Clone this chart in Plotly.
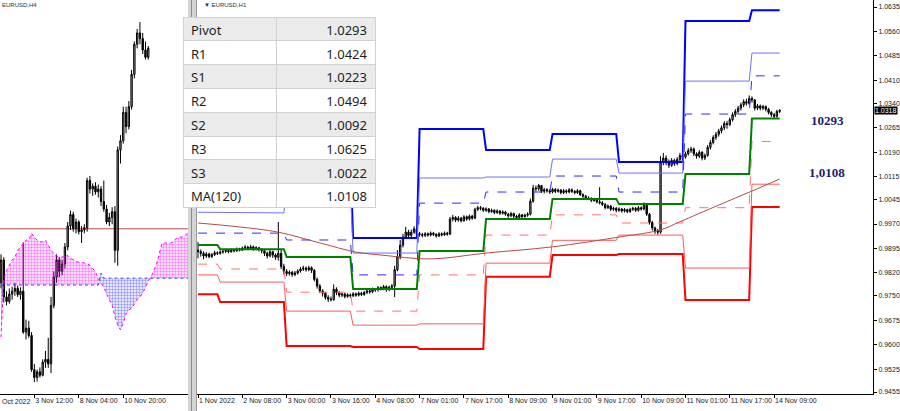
import plotly.graph_objects as go

W, H = 900, 411

# ---------------- Right chart: EURUSD H1 ----------------
h1_first_open = 0.9890
h1_close = [
 0.9885,0.9880,0.9872,0.9878,0.9870,0.9876,0.9882,0.9880,0.9884,0.9886,
 0.9889,0.9885,0.9890,0.9888,0.9893,0.9890,0.9896,0.9899,0.9895,0.9900,
 0.9894,0.9897,0.9892,0.9888,0.9880,0.9872,0.9885,0.9875,0.9868,0.9880,
 0.9840,0.9825,0.9818,0.9822,0.9815,0.9820,0.9826,0.9832,0.9835,0.9830,
 0.9836,0.9828,0.9800,0.9780,0.9765,0.9758,0.9745,0.9740,0.9738,0.9770,
 0.9760,0.9752,0.9755,0.9748,0.9753,0.9750,0.9756,0.9752,0.9758,0.9754,
 0.9760,0.9765,0.9762,0.9770,0.9768,0.9775,0.9772,0.9778,0.9770,0.9776,
 0.9780,0.9830,0.9870,0.9905,0.9930,0.9945,0.9935,0.9945,0.9955,0.9940,
 0.9938,0.9935,0.9940,0.9936,0.9942,0.9938,0.9933,0.9940,0.9937,0.9942,
 0.9939,0.9985,0.9990,0.9982,0.9988,0.9980,0.9992,0.9985,0.9994,0.9988,
 1.0015,1.0020,1.0018,1.0012,1.0016,1.0008,1.0012,1.0005,1.0010,1.0003,
 1.0007,1.0000,0.9995,1.0002,0.9994,0.9990,0.9998,0.9993,0.9997,1.0000,
 1.0040,1.0080,1.0078,1.0088,1.0070,1.0075,1.0072,1.0068,1.0076,1.0070,
 1.0074,1.0066,1.0072,1.0068,1.0075,1.0070,1.0066,1.0072,1.0060,1.0055,
 1.0050,1.0048,1.0042,1.0045,1.0038,1.0035,1.0030,1.0020,1.0025,1.0015,
 1.0018,1.0012,1.0016,1.0010,1.0014,1.0008,1.0015,1.0018,1.0012,1.0020,
 1.0016,1.0030,1.0000,0.9975,0.9958,0.9948,0.9945,1.0160,1.0172,1.0160,
 1.0150,1.0165,1.0155,1.0168,1.0180,1.0175,1.0185,1.0195,1.0200,1.0185,
 1.0178,1.0190,1.0172,1.0180,1.0205,1.0220,1.0235,1.0245,1.0255,1.0265,
 1.0278,1.0275,1.0290,1.0305,1.0315,1.0325,1.0335,1.0345,1.0340,1.0355,
 1.0350,1.0325,1.0332,1.0325,1.0330,1.0322,1.0312,1.0305,1.0300,1.0315,
 1.0318]
h1_high = [
 0.9915,0.9892,0.9886,0.9884,0.9882,0.9881,0.9888,0.9886,0.9889,0.9891,
 0.9894,0.9893,0.9895,0.9894,0.9898,0.9897,0.9901,0.9905,0.9903,0.9906,
 0.9904,0.9902,0.9900,0.9896,0.9892,0.9885,0.9890,0.9888,0.9880,0.9976,
 0.9892,0.9848,0.9832,0.9828,0.9826,0.9826,0.9831,0.9838,0.9842,0.9840,
 0.9842,0.9840,0.9832,0.9806,0.9786,0.9770,0.9762,0.9752,0.9748,0.9785,
 0.9776,0.9764,0.9760,0.9759,0.9758,0.9757,0.9761,0.9760,0.9763,0.9762,
 0.9765,0.9771,0.9769,0.9775,0.9774,0.9780,0.9779,0.9783,0.9782,0.9781,
 0.9786,0.9842,0.9890,0.9921,0.9940,0.9961,0.9952,0.9953,0.9963,0.9958,
 0.9946,0.9943,0.9945,0.9944,0.9947,0.9946,0.9942,0.9945,0.9944,0.9947,
 0.9946,0.9992,0.9998,0.9994,0.9994,0.9992,0.9997,0.9996,0.9999,0.9998,
 1.0020,1.0026,1.0025,1.0022,1.0021,1.0019,1.0017,1.0015,1.0015,1.0013,
 1.0012,1.0010,1.0004,1.0007,1.0005,0.9998,1.0003,1.0001,1.0002,1.0006,
 1.0048,1.0090,1.0088,1.0093,1.0090,1.0081,1.0080,1.0077,1.0081,1.0080,
 1.0079,1.0077,1.0077,1.0076,1.0080,1.0079,1.0074,1.0077,1.0075,1.0064,
 1.0059,1.0055,1.0052,1.0050,1.0049,1.0083,1.0040,1.0034,1.0030,1.0028,
 1.0023,1.0022,1.0021,1.0019,1.0019,1.0017,1.0020,1.0023,1.0022,1.0025,
 1.0024,1.0036,1.0033,1.0004,0.9980,0.9962,0.9955,1.0178,1.0188,1.0180,
 1.0168,1.0172,1.0170,1.0175,1.0188,1.0186,1.0192,1.0203,1.0207,1.0204,
 1.0190,1.0196,1.0193,1.0186,1.0212,1.0227,1.0242,1.0252,1.0262,1.0272,
 1.0285,1.0286,1.0296,1.0312,1.0322,1.0332,1.0342,1.0352,1.0354,1.0364,
 1.0361,1.0353,1.0338,1.0336,1.0335,1.0333,1.0326,1.0316,1.0310,1.0320,
 1.0322]
h1_low = [
 0.9865,0.9870,0.9862,0.9866,0.9865,0.9866,0.9872,0.9875,0.9876,0.9879,
 0.9881,0.9880,0.9882,0.9883,0.9884,0.9886,0.9887,0.9892,0.9890,0.9891,
 0.9888,0.9889,0.9886,0.9880,0.9872,0.9864,0.9868,0.9866,0.9860,0.9858,
 0.9832,0.9815,0.9810,0.9812,0.9808,0.9810,0.9815,0.9821,0.9826,0.9824,
 0.9825,0.9820,0.9794,0.9772,0.9758,0.9748,0.9738,0.9731,0.9733,0.9735,
 0.9752,0.9745,0.9746,0.9742,0.9744,0.9744,0.9746,0.9747,0.9748,0.9749,
 0.9750,0.9755,0.9756,0.9758,0.9762,0.9763,0.9766,0.9767,0.9762,0.9764,
 0.9770,0.9746,0.9825,0.9862,0.9898,0.9925,0.9928,0.9930,0.9940,0.9934,
 0.9931,0.9929,0.9930,0.9931,0.9932,0.9933,0.9928,0.9930,0.9932,0.9933,
 0.9934,0.9936,0.9978,0.9976,0.9977,0.9975,0.9977,0.9980,0.9981,0.9983,
 0.9985,1.0010,1.0012,1.0007,1.0007,1.0003,1.0004,1.0000,1.0001,0.9998,
 0.9999,0.9995,0.9989,0.9991,0.9988,0.9985,0.9986,0.9988,0.9989,0.9992,
 0.9996,1.0035,1.0070,1.0072,1.0065,1.0064,1.0066,1.0062,1.0064,1.0065,
 1.0066,1.0061,1.0062,1.0063,1.0064,1.0065,1.0061,1.0062,1.0056,1.0050,
 1.0045,1.0043,1.0037,1.0038,1.0033,1.0030,1.0025,1.0015,1.0016,1.0010,
 1.0010,1.0006,1.0007,1.0005,1.0005,1.0003,1.0004,1.0010,1.0007,1.0008,
 1.0011,1.0012,0.9995,0.9968,0.9950,0.9940,0.9937,0.9940,1.0150,1.0150,
 1.0142,1.0145,1.0148,1.0150,1.0162,1.0168,1.0170,1.0180,1.0188,1.0178,
 1.0170,1.0172,1.0165,1.0166,1.0176,1.0198,1.0214,1.0228,1.0238,1.0248,
 1.0258,1.0262,1.0270,1.0284,1.0298,1.0309,1.0318,1.0328,1.0333,1.0335,
 1.0342,1.0318,1.0319,1.0318,1.0319,1.0315,1.0306,1.0298,1.0294,1.0296,
 1.0310]
h1_open = [h1_first_open] + h1_close[:-1]
h1_x = list(range(len(h1_close)))

h1_tick_idx = [0, 16, 32, 48, 64, 80, 96, 112, 128, 144, 160, 176, 192, 208]
h1_tick_text = ["1 Nov 2022", "2 Nov 08:00", "3 Nov 00:00", "3 Nov 16:00",
                "4 Nov 08:00", "7 Nov 01:00", "7 Nov 17:00", "8 Nov 09:00",
                "9 Nov 01:00", "9 Nov 17:00", "10 Nov 09:00", "11 Nov 01:00",
                "11 Nov 17:00", "14 Nov 09:00"]
price_ticks = [1.0635, 1.0560, 1.0485, 1.0410, 1.0340, 1.0265, 1.0190, 1.0115,
               1.0045, 0.9970, 0.9895, 0.9820, 0.9750, 0.9675, 0.9600, 0.9525,
               0.9455]

# daily pivot levels (one value per trading day)
day_start = [0, 8, 32, 56, 80, 104, 128, 152, 176, 200]
day_end   = [7, 31, 55, 79, 103, 127, 151, 175, 199, 210]
lvl_R3 = [1.0060, 1.0045, 1.0170, 0.9927, 1.0261, 1.0197, 1.0246, 1.0160, 1.0592, 1.0625]
lvl_R2 = [1.0006, 1.0004, 1.0080, 0.9881, 1.0111, 1.0114, 1.0169, 1.0126, 1.0408, 1.0494]
lvl_R1 = [0.9942, 0.9942, 0.9921, 0.9814, 1.0034, 1.0068, 1.0117, 1.0068, 1.0307, 1.0424]
lvl_P  = [0.9906, 0.9893, 0.9869, 0.9771, 0.9887, 0.9985, 1.0047, 1.0031, 1.0123, 1.0293]
lvl_S1 = [0.9847, 0.9832, 0.9761, 0.9703, 0.9814, 0.9936, 0.9998, 0.9973, 1.0020, 1.0223]
lvl_S2 = [0.9814, 0.9792, 0.9703, 0.9660, 0.9664, 0.9850, 0.9920, 0.9936, 0.9835, 1.0092]
lvl_S3 = [0.9755, 0.9731, 0.9596, 0.9593, 0.9587, 0.9808, 0.9875, 0.9878, 0.9737, 1.0022]

ma_idx = [0, 15, 29, 44, 57, 66, 84, 104, 128, 152, 167, 174, 188, 200, 210]
ma_val = [0.9973, 0.9961, 0.9945, 0.9912, 0.9884, 0.9875, 0.9863, 0.9881,
          0.9900, 0.9930, 0.9952, 0.9977, 1.0028, 1.0071, 1.0108]

table_labels = ["Pivot", "R1", "S1", "R2", "S2", "R3", "S3", "MA(120)"]
table_values = ["1.0293", "1.0424", "1.0223", "1.0494", "1.0092", "1.0625", "1.0022", "1.0108"]
pivot_note = "10293"
ma_note = "1,0108"
last_price = 1.0318

# ---------------- Left chart: EURUSD H4 ----------------
h4_open = [
 0.9905,0.9945,0.9880,0.9872,0.9885,0.9890,0.9895,0.9884,0.9890,0.9818,
 0.9825,0.9812,0.9752,0.9738,0.9748,0.9742,0.9765,0.9770,0.9762,0.9865,
 0.9915,0.9945,0.9925,0.9938,0.9968,1.0005,1.0025,1.0000,1.0012,0.9995,
 0.9998,1.0002,1.0085,1.0070,1.0075,1.0065,1.0070,1.0048,1.0035,1.0012,
 1.0020,1.0030,0.9962,1.0139,1.0155,1.0205,1.0180,1.0215,1.0272,1.0325,
 1.0345,1.0335,1.0315,1.0302]
h4_high = [
 0.9955,0.9950,0.9890,0.9895,0.9898,0.9905,0.9900,0.9897,0.9976,0.9840,
 0.9838,0.9818,0.9762,0.9752,0.9756,0.9770,0.9785,0.9808,0.9880,0.9925,
 0.9955,0.9950,0.9945,0.9975,1.0012,1.0032,1.0030,1.0018,1.0015,1.0005,
 1.0008,1.0090,1.0093,1.0080,1.0082,1.0078,1.0075,1.0085,1.0042,1.0028,
 1.0038,1.0040,1.0145,1.0165,1.0215,1.0215,1.0225,1.0280,1.0330,1.0352,
 1.0364,1.0345,1.0330,1.0322]
h4_low = [
 0.9895,0.9870,0.9865,0.9868,0.9875,0.9882,0.9880,0.9875,0.9815,0.9805,
 0.9808,0.9748,0.9730,0.9731,0.9738,0.9740,0.9755,0.9755,0.9746,0.9860,
 0.9905,0.9915,0.9918,0.9930,0.9962,0.9998,0.9995,0.9992,0.9990,0.9975,
 0.9992,0.9995,1.0062,1.0058,1.0060,1.0055,1.0040,1.0030,1.0008,1.0005,
 1.0008,0.9940,0.9935,1.0115,1.0150,1.0168,1.0175,1.0210,1.0265,1.0318,
 1.0325,1.0308,1.0298,1.0298]
h4_close = [
 0.9945,0.9880,0.9872,0.9885,0.9890,0.9895,0.9884,0.9890,0.9818,0.9825,
 0.9812,0.9752,0.9738,0.9748,0.9742,0.9765,0.9770,0.9762,0.9865,0.9915,
 0.9945,0.9925,0.9938,0.9968,1.0005,1.0025,1.0000,1.0012,0.9995,0.9998,
 1.0002,1.0085,1.0070,1.0075,1.0065,1.0070,1.0048,1.0035,1.0012,1.0020,
 1.0030,0.9962,1.0139,1.0155,1.0205,1.0180,1.0215,1.0272,1.0325,1.0345,
 1.0335,1.0315,1.0302,1.0318]
h4_x = list(range(len(h4_close)))
h4_tick_idx = [12, 28, 44]
h4_tick_text = ["3 Nov 12:00", "8 Nov 04:00", "10 Nov 20:00"]
h4_first_label = "Oct 2022"
parity_level = 1.0000

# Ichimoku cloud (Senkou spans), shifted forward
senkou_a = [
 0.9809,0.9910,0.9927,0.9935,0.9945,0.9950,0.9962,0.9968,0.9975,0.9980,
 0.9980,0.9992,0.9985,0.9980,0.9977,0.9977,0.9980,0.9970,0.9962,0.9957,
 0.9952,0.9950,0.9950,0.9953,0.9953,0.9948,0.9945,0.9943,0.9941,0.9941,
 0.9940,0.9938,0.9936,0.9930,0.9924,0.9912,0.9904,0.9897,0.9885,0.9874,
 0.9865,0.9845,0.9830,0.9822,0.9834,0.9850,0.9857,0.9860,0.9868,0.9875,
 0.9880,0.9887,0.9897,0.9908,0.9915,0.9927,0.9938,0.9957,0.9975,0.9975,
 0.9975,0.9975,0.9977,0.9983,0.9985,0.9985,0.9986,0.9992,0.9992]
senkou_b = [
 0.9901,0.9901,0.9901,0.9901,0.9901,0.9901,0.9901,0.9901,0.9901,0.9901,
 0.9901,0.9901,0.9901,0.9901,0.9901,0.9901,0.9901,0.9901,0.9901,0.9901,
 0.9901,0.9901,0.9901,0.9901,0.9901,0.9901,0.9901,0.9901,0.9901,0.9901,
 0.9901,0.9901,0.9901,0.9901,0.9901,0.9901,0.9922,0.9913,0.9913,0.9913,
 0.9913,0.9913,0.9913,0.9913,0.9913,0.9913,0.9913,0.9913,0.9913,0.9913,
 0.9913,0.9913,0.9913,0.9913,0.9913,0.9913,0.9913,0.9913,0.9913,0.9913,
 0.9913,0.9913,0.9913,0.9913,0.9913,0.9913,0.9913,0.9913,0.9913]
cloud_x = list(range(len(senkou_a)))

# ---------------- Figure ----------------
fig = go.Figure()

cloud_hi = [max(a, b) for a, b in zip(senkou_a, senkou_b)]
cloud_lo = [min(a, b) for a, b in zip(senkou_a, senkou_b)]
fig.add_trace(go.Scatter(x=cloud_x, y=senkou_b, xaxis="x2", yaxis="y2", mode="lines",
                         line=dict(width=0), hoverinfo="skip", showlegend=False))
fig.add_trace(go.Scatter(x=cloud_x, y=cloud_hi, xaxis="x2", yaxis="y2", mode="lines",
                         line=dict(width=0), fill="tonexty", fillcolor="rgba(0,0,0,0)",
                         fillpattern=dict(shape=".", fgcolor="#ff00ff", bgcolor="rgba(0,0,0,0)",
                                          size=3, solidity=0.5),
                         hoverinfo="skip", showlegend=False))
fig.add_trace(go.Scatter(x=cloud_x, y=senkou_b, xaxis="x2", yaxis="y2", mode="lines",
                         line=dict(width=0), hoverinfo="skip", showlegend=False))
fig.add_trace(go.Scatter(x=cloud_x, y=cloud_lo, xaxis="x2", yaxis="y2", mode="lines",
                         line=dict(width=0), fill="tonexty", fillcolor="rgba(0,0,0,0)",
                         fillpattern=dict(shape=".", fgcolor="#3030ff", bgcolor="rgba(0,0,0,0)",
                                          size=3, solidity=0.5),
                         hoverinfo="skip", showlegend=False))
fig.add_trace(go.Scatter(x=cloud_x, y=senkou_b, xaxis="x2", yaxis="y2", mode="lines",
                         line=dict(color="#3a3aff", width=1, dash="dot"), showlegend=False))
fig.add_trace(go.Scatter(x=cloud_x, y=senkou_a, xaxis="x2", yaxis="y2", mode="lines",
                         line=dict(color="#ff00ff", width=1, dash="dot"), showlegend=False))

fig.add_trace(go.Candlestick(x=h4_x, open=h4_open, high=h4_high, low=h4_low, close=h4_close,
                             xaxis="x2", yaxis="y2", whiskerwidth=0,
                             increasing=dict(line=dict(color="#000000", width=1), fillcolor="#a8a8a8"),
                             decreasing=dict(line=dict(color="#000000", width=1), fillcolor="#000000"),
                             showlegend=False))

# pivot step lines
def steps(levels):
    xs, ys = [], []
    for s, e, v in zip(day_start, day_end, levels):
        xs += [s, e]
        ys += [v, v]
    return xs, ys

level_styles = [
    (lvl_R3, "#0000ff", 2, "solid"),
    (lvl_R2, "#7070ff", 1, "solid"),
    (lvl_R1, "#2a2aff", 1, "dash"),
    (lvl_S3, "#ff0000", 2, "solid"),
    (lvl_S2, "#ff5a5a", 1, "solid"),
    (lvl_S1, "#ff7070", 1, "dash"),
    (lvl_P,  "#008000", 2, "solid"),
]
for lv, col, wd, ds in level_styles:
    xs, ys = steps(lv)
    fig.add_trace(go.Scatter(x=xs, y=ys, mode="lines", line=dict(color=col, width=wd, dash=ds),
                             xaxis="x", yaxis="y", showlegend=False))

fig.add_trace(go.Scatter(x=ma_idx, y=ma_val, mode="lines", line=dict(color="#b84a4a", width=1, shape="spline"),
                         xaxis="x", yaxis="y", showlegend=False))

fig.add_trace(go.Candlestick(x=h1_x, open=h1_open, high=h1_high, low=h1_low, close=h1_close,
                             xaxis="x", yaxis="y", whiskerwidth=0,
                             increasing=dict(line=dict(color="#000000", width=1), fillcolor="#a8a8a8"),
                             decreasing=dict(line=dict(color="#000000", width=1), fillcolor="#000000"),
                             showlegend=False))

row_fill = ["#ffffff" if i % 2 == 0 else "#ebebeb" for i in range(len(table_labels) - 1)]
tfont = dict(family="Noto Sans", size=13, color="#1e1e1e")
fig.add_trace(go.Table(
    domain=dict(x=[183 / W, 375 / W], y=[(H - 212) / H, (H - 17) / H]),
    columnwidth=[93, 99],
    header=dict(values=[table_labels[0], table_values[0]], fill_color="#ebebeb",
                align=["left", "right"], font=tfont, height=23.8,
                line=dict(color="#d2d2d2", width=1)),
    cells=dict(values=[table_labels[1:], table_values[1:]], fill_color=[row_fill, row_fill],
               align=["left", "right"], font=tfont, height=23.8,
               line=dict(color="#d2d2d2", width=1)),
))

axfont = dict(family="Liberation Sans", size=7, color="#202020")
ybot = (H - 394) / H
fig.update_layout(
    width=W, height=H, margin=dict(l=0, r=0, t=0, b=0),
    paper_bgcolor="white", plot_bgcolor="white", showlegend=False,
    xaxis=dict(domain=[197 / W, 873 / W], range=[-0.36, 243.7], anchor="y",
               tickvals=h1_tick_idx, ticktext=h1_tick_text, ticks="outside", ticklen=3,
               tickcolor="#000", showline=True, linecolor="#000", linewidth=1,
               showgrid=False, zeroline=False, tickfont=axfont, tickangle=0,
               ticklabelposition="outside right", rangeslider=dict(visible=False),
               fixedrange=True),
    yaxis=dict(domain=[ybot, 1], range=[0.9449, 1.06565], anchor="x", side="right",
               tickvals=price_ticks, ticktext=[f"{v:.4f}" for v in price_ticks],
               ticks="outside", ticklen=3, tickcolor="#000", showline=True,
               linecolor="#000", linewidth=1, showgrid=False, zeroline=False,
               tickfont=axfont, fixedrange=True),
    xaxis2=dict(domain=[0, 188 / W], range=[-0.36, 67.3], anchor="y2",
                tickvals=h4_tick_idx, ticktext=h4_tick_text, ticks="outside", ticklen=3,
                tickcolor="#000", showline=True, linecolor="#000", linewidth=1,
                showgrid=False, zeroline=False, tickfont=axfont, tickangle=0,
                ticklabelposition="outside right", rangeslider=dict(visible=False),
                fixedrange=True),
    yaxis2=dict(domain=[ybot, 1], range=[0.9709, 1.0403], anchor="x2", visible=False,
                fixedrange=True),
)

fig.add_shape(type="line", xref="x2 domain", x0=0, x1=1, yref="y2", y0=parity_level, y1=parity_level,
              line=dict(color="#c04848", width=1), layer="below")
# window separator between the two charts
fig.add_shape(type="rect", xref="paper", yref="paper", x0=188 / W, x1=197 / W, y0=0, y1=1,
              fillcolor="#d4d4d4", line=dict(width=0), layer="below")
fig.add_shape(type="line", xref="paper", yref="paper", x0=191.5 / W, x1=191.5 / W, y0=0, y1=1,
              line=dict(color="#8a8a8a", width=1), layer="below")
fig.add_shape(type="line", xref="paper", yref="paper", x0=196.5 / W, x1=196.5 / W, y0=0, y1=1,
              line=dict(color="#9a9a9a", width=1), layer="below")

note_font = dict(family="Liberation Serif", size=13, color="#1c1c6e")
fig.add_annotation(xref="paper", yref="paper", x=827 / W, y=(H - 121) / H, xanchor="center",
                   yanchor="middle", text=f"<b>{pivot_note}</b>", showarrow=False, font=note_font)
fig.add_annotation(xref="paper", yref="paper", x=827 / W, y=(H - 172) / H, xanchor="center",
                   yanchor="middle", text=f"<b>{ma_note}</b>", showarrow=False, font=note_font)
fig.add_annotation(xref="paper", yref="y", x=873.5 / W, y=last_price, xanchor="left", yanchor="middle",
                   text=f"{last_price:.4f}", showarrow=False, bgcolor="#000000", borderpad=0,
                   font=dict(family="Liberation Sans", size=7, color="#ffffff"))
fig.add_annotation(xref="paper", yref="paper", x=202 / W, y=(H - 5) / H, xanchor="left", yanchor="middle",
                   text="▼ EURUSD,H1", showarrow=False,
                   font=dict(family="Liberation Sans", size=6, color="#303030"))
fig.add_annotation(xref="paper", yref="paper", x=0, y=(H - 5) / H, xanchor="left", yanchor="middle",
                   text="EURUSD,H4", showarrow=False,
                   font=dict(family="Liberation Sans", size=6, color="#303030"))
fig.add_annotation(xref="paper", yref="paper", x=0, y=(H - 401) / H, xanchor="left", yanchor="middle",
                   text=h4_first_label, showarrow=False, font=axfont)

fig.write_html("out.html", config={"displayModeBar": False},
               post_script="document.body.style.margin='0';document.body.style.padding='0';")
